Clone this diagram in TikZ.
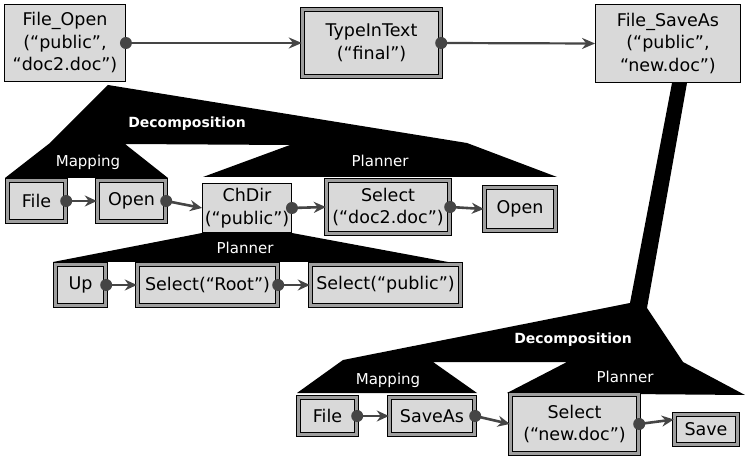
\documentclass[tikz,border=0pt]{standalone}
\usepackage{fontspec}
\setmainfont{DejaVu Sans}
\usetikzlibrary{arrows.meta}
\definecolor{boxfill}{gray}{0.85}
\definecolor{linegray}{gray}{0.27}
\definecolor{bandgray}{gray}{0.62}
\begin{document}
\begin{tikzpicture}[x=1pt,y=-1pt,
  txt/.style={font=\fontsize{17.5}{22.5}\selectfont, align=center, inner sep=0pt},
  single/.style={txt, draw=black, line width=0.9pt, fill=boxfill},
  triple/.style={txt, draw=black, line width=1.4pt, double=bandgray, double distance=2.6pt, fill=boxfill},
  lbl/.style={text=white, inner sep=0pt, font=\fontsize{15}{17}\selectfont},
  blbl/.style={text=white, inner sep=0pt, font=\fontsize{14}{17}\selectfont\bfseries},
  conn/.style={draw=linegray, line width=2.6pt, -{Stealth[length=12pt,width=11pt]}},
  topconn/.style={draw=linegray, line width=2.2pt, -{Stealth[length=13pt,width=11pt]}},
  dotc/.style={fill=linegray},
  band/.style={fill=black}]
\useasboundingbox (0,0) rectangle (745,457);

% black decomposition shapes
\fill[band] (108,85) -- (467,143) -- (557,177) -- (203,177) -- (290,145) -- (125,144)
  -- (168,178) -- (5,178) -- (50,143) -- cycle;
\fill[band] (202,233) -- (292,233) -- (448,262) -- (53,262) -- cycle;
\fill[band] (672,83) -- (687,83) -- (647,308) -- (683,362) -- (745,395) -- (507,393)
  -- (567,362) -- (433,362) -- (477,393) -- (297,393) -- (343,360) -- (630,303) -- cycle;

% labels on bands
\node[blbl] (dec1) at (187,124) {Decomposition};
\node[lbl] (map1) at (88,162) {Mapping};
\node[lbl] (pla1) at (380,161) {Planner};
\node[lbl] (pla2) at (245,248) {Planner};
\node[blbl] (dec2) at (573,340) {Decomposition};
\node[lbl] (map2) at (388,380) {Mapping};
\node[lbl] (pla3) at (625,377) {Planner};

% boxes
\node[single, minimum width=121, minimum height=77] (fo) at (65,43) {File\_Open\\(“public”,\\“doc2.doc”)};
\node[triple, minimum width=138, minimum height=67] (tt) at (371.5,43) {TypeInText\\(“final”)};
\node[single, minimum width=145, minimum height=78] (fs) at (668,43.5) {File\_SaveAs\\(“public”,\\“new.doc”)};

\node[triple, minimum width=58, minimum height=41] (f1) at (36.5,201) {File};
\node[triple, minimum width=68, minimum height=41] (o1) at (131.5,201) {Open};
\node[single, minimum width=89, minimum height=49] (cd) at (247,208) {ChDir\\(“public”)};
\node[triple, minimum width=123, minimum height=53] (s1) at (388,207) {Select\\(“doc2.doc”)};
\node[triple, minimum width=71, minimum height=43] (o2) at (520,209) {Open};

\node[triple, minimum width=50, minimum height=41] (up) at (80.5,285) {Up};
\node[triple, minimum width=140, minimum height=41] (sr) at (207.5,285) {Select(“Root”)};
\node[triple, minimum width=150, minimum height=41] (sp) at (385.5,285) {Select(“public”)};

\node[triple, minimum width=58, minimum height=37] (f2) at (327.5,416) {File};
\node[triple, minimum width=85, minimum height=37] (sa) at (432,416) {SaveAs};
\node[triple, minimum width=128, minimum height=59] (sn) at (574.5,424) {Select\\(“new.doc”)};
\node[triple, minimum width=63, minimum height=30] (sv) at (706,429.5) {Save};

% connectors
\draw[topconn] (fo.east) -- (tt.west);
\draw[topconn] (tt.east) -- (fs.west);
\draw[conn] (f1.east) -- (o1.west);
\draw[conn] (o1.east) -- (cd.west);
\draw[conn] (cd.east) -- (s1.west);
\draw[conn] (s1.east) -- (o2.west);
\draw[conn] (up.east) -- (sr.west);
\draw[conn] (sr.east) -- (sp.west);
\draw[conn] (f2.east) -- (sa.west);
\draw[conn] (sa.east) -- (sn.west);
\draw[conn] (sn.east) -- ([yshift=10pt]sv.west);

% dots
\foreach \n in {fo,tt,f1,o1,cd,s1,up,sr,f2,sa,sn}
  \fill[dotc] (\n.east) circle (6);
\end{tikzpicture}
\end{document}
